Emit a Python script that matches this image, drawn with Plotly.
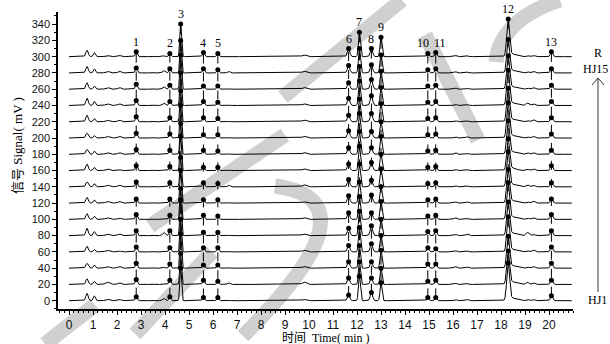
import numpy as np
import plotly.graph_objects as go

# ---------------- data ----------------
sample_names = ["HJ1", "HJ2", "HJ3", "HJ4", "HJ5", "HJ6", "HJ7", "HJ8",
                "HJ9", "HJ10", "HJ11", "HJ12", "HJ13", "HJ14", "HJ15", "R"]
baseline_offsets = [0, 20, 40, 60, 80, 100, 120, 140, 160, 180, 200, 220, 240, 260, 280, 300]

# retention time (min), peak width (sigma, min), label
peak_times = [0.75, 1.05, 1.6, 2.1, 2.8, 3.45, 3.95, 4.2, 4.65, 5.6, 6.2, 6.65, 9.8,
              11.65, 12.1, 12.6, 13.0, 14.95, 15.28, 16.1, 16.6, 18.3, 18.5, 19.1, 19.35, 20.1]
peak_sigmas = [0.05, 0.04, 0.08, 0.06, 0.04, 0.05, 0.05, 0.04, 0.035, 0.04, 0.04, 0.05, 0.08,
               0.05, 0.04, 0.05, 0.04, 0.04, 0.04, 0.05, 0.05, 0.06, 0.15, 0.06, 0.06, 0.045]
peak_labels = ["", "", "", "", "1", "", "", "2", "3", "4", "5", "", "",
               "6", "7", "8", "9", "10", "11", "", "", "12", "", "", "", "13"]
# peak heights (mV) for each sample, HJ1 ... HJ15, R
peak_heights = [
    [9, 7, 6, 7, 9, 7, 7, 6, 8, 6, 6, 8, 9, 8, 8, 8],
    [6, 4, 4, 3, 5, 4, 4, 4, 4, 4, 3, 4, 5, 4, 5, 5],
    [2, 3, 2, 2, 2, 2, 2, 2, 2, 2, 2, 2, 2, 2, 2, 1.5],
    [1.5, 2, 2, 1, 2, 1.5, 2, 2, 1, 2, 2, 2, 2, 2, 2, 1.5],
    [5, 6, 6, 6, 6, 6, 5, 6, 6, 6, 6, 6, 6, 6, 6, 6],
    [1, 1, 1, 1, 1, 1, 1, 1, 1, 1, 1, 1, 1, 1, 1, 1],
    [3, 0.5, 1, 0.5, 4, 0.5, 0.5, 0.5, 0.5, 0.5, 0.5, 0.5, 3, 3, 3, 1],
    [5, 5, 5, 5, 6, 5, 5, 5, 5, 5, 5, 5, 5, 5, 5, 4],
    [40, 38, 42, 40, 44, 38, 40, 36, 42, 38, 40, 38, 40, 42, 40, 40],
    [4, 5, 4, 5, 4, 5, 4, 5, 4, 5, 4, 5, 5, 4, 5, 5],
    [4, 4, 4, 5, 4, 4, 4, 4, 4, 4, 4, 4, 4, 4, 4, 4],
    [0.5, 2, 0.5, 0.5, 0.5, 0.5, 0.5, 2, 0.5, 0.5, 0.5, 0.5, 0.5, 0.5, 2, 0.5],
    [1.5, 3, 2, 2, 2, 2, 1.5, 2.5, 2, 2, 2, 2, 2, 2, 2, 2],
    [7, 8, 8, 8, 9, 8, 9, 9, 8, 8, 9, 8, 9, 8, 9, 10],
    [30, 28, 28, 30, 30, 28, 26, 28, 30, 28, 30, 28, 30, 28, 30, 30],
    [10, 8, 8, 10, 12, 8, 10, 8, 10, 8, 8, 10, 12, 12, 10, 10],
    [22, 20, 22, 20, 20, 22, 20, 22, 20, 22, 20, 22, 22, 22, 22, 24],
    [4, 4, 5, 5, 5, 4, 4, 4, 4, 4, 4, 4, 4, 4, 4, 4],
    [4, 5, 5, 4, 6, 5, 5, 5, 5, 5, 5, 5, 5, 5, 5, 5],
    [1.5, 1.5, 2, 1.5, 1.5, 2, 1.5, 1.5, 1.5, 2, 1.5, 1.5, 1.5, 1.5, 1.5, 1.5],
    [1.5, 1, 1.5, 1, 2, 1, 1.5, 1, 1, 1, 1.5, 1, 1, 1, 1, 1],
    [45, 40, 38, 42, 40, 44, 40, 42, 38, 40, 42, 40, 42, 40, 40, 45],
    [3, 3, 3, 3, 3, 3, 3, 3, 3, 3, 3, 3, 3, 3, 3, 3],
    [1.5, 2.5, 1.5, 1.5, 4, 1.5, 1.5, 2.5, 1.5, 2, 1.5, 1.5, 3, 1.5, 1.5, 1.5],
    [1.5, 2, 2, 2.5, 1.5, 2, 2.5, 2, 2, 2, 2, 2.5, 2, 2, 2, 1.5],
    [6, 5, 6, 6, 6, 6, 5, 5, 6, 5, 5, 5, 5, 5, 5, 6],
]
x_tick_values = list(range(0, 21))
y_tick_values = list(range(0, 341, 20))
t_start, t_end = 0.0, 20.95

# ---------------- geometry helpers ----------------
W, H = 610, 344
ML, MR, MT, MB = 58, 37, 12, 35
PW, PH = W - ML - MR, H - MT - MB

def px(xp):
    return (xp - ML) / PW

def py(yp):
    return (H - MB - yp) / PH

label_xshift = {"10": -5, "11": 4}

# ---------------- build curves ----------------
t = np.arange(t_start, t_end + 1e-9, 0.005)
curves = []
for j, off in enumerate(baseline_offsets):
    y = np.full_like(t, float(off))
    for i, tc in enumerate(peak_times):
        y += peak_heights[i][j] * np.exp(-0.5 * ((t - tc) / peak_sigmas[i]) ** 2)
    curves.append(y)

fig = go.Figure()

# faint background watermark strokes (drawn below the data)
wm = dict(color="rgba(150,150,150,0.45)", width=15)
for (x0, y0, x1, y1) in [(150, 226, 285, 135), (402, 0, 283, 97), (425, 35, 478, 140),
                         (45, 344, 95, 305), (135, 334, 212, 252)]:
    fig.add_shape(type="line", xref="paper", yref="paper", layer="below",
                  x0=px(x0), y0=py(y0), x1=px(x1), y1=py(y1), line=wm)
for pts in [[(275, 186), (380, 200), (243, 336)], [(560, 0), (500, 20), (496, 62)]]:
    (a, b), (c, d), (e, f) = pts
    path = "M %f %f Q %f %f %f %f" % (px(a), py(b), px(c), py(d), px(e), py(f))
    fig.add_shape(type="path", xref="paper", yref="paper", layer="below", path=path, line=wm)

for j, name in enumerate(sample_names):
    fig.add_trace(go.Scatter(x=t, y=curves[j], mode="lines", name=name,
                             line=dict(color="black", width=1), showlegend=False,
                             hoverinfo="skip"))

# dashed connectors and apex markers for labelled peaks
for i, lab in enumerate(peak_labels):
    if not lab:
        continue
    tc = peak_times[i]
    ys = [float(np.interp(tc, t, c)) for c in curves]
    fig.add_trace(go.Scatter(x=[tc] * len(ys), y=ys, mode="lines+markers",
                             line=dict(color="black", width=1, dash="dash"),
                             marker=dict(color="black", size=5, symbol="circle"),
                             showlegend=False, hoverinfo="skip"))
    fig.add_annotation(x=tc, y=ys[-1], text=lab, showarrow=False, yanchor="bottom",
                       yshift=1, xshift=label_xshift.get(lab, 0),
                       font=dict(family="Liberation Serif, Times New Roman",
                                 size=12, color="black"))

# axis titles
fig.add_annotation(xref="paper", yref="paper", x=px(18), y=py(146), text="信号 Signal( mV )",
                   textangle=-90, showarrow=False, xanchor="center", yanchor="middle",
                   font=dict(family="Liberation Serif, Noto Sans CJK SC", size=13, color="black"))
fig.add_annotation(xref="paper", yref="paper", x=px(326), y=py(338), text="时间  Time( min )",
                   showarrow=False, xanchor="center", yanchor="middle",
                   font=dict(family="Liberation Serif, Noto Sans CJK SC", size=12, color="black"))

# right side sample markers
serif = dict(family="Liberation Serif, Times New Roman", size=12, color="black")
fig.add_annotation(xref="paper", yref="paper", x=px(598), y=py(53), text="R",
                   showarrow=False, xanchor="center", yanchor="middle", font=serif)
fig.add_annotation(xref="paper", yref="paper", x=px(581), y=py(69), text=sample_names[-2],
                   xanchor="left", yanchor="middle", showarrow=False, font=serif)
fig.add_annotation(xref="paper", yref="paper", x=px(586), y=py(300), text=sample_names[0],
                   xanchor="left", yanchor="middle", showarrow=False, font=serif)
for (x0, y0, x1, y1) in [(598, 78, 598, 292), (592, 85, 598, 78), (598, 78, 604, 85)]:
    fig.add_shape(type="line", xref="paper", yref="paper", x0=px(x0), y0=py(y0),
                  x1=px(x1), y1=py(y1), line=dict(color="#333", width=1))

fig.update_layout(
    width=W, height=H, margin=dict(l=ML, r=MR, t=MT, b=MB),
    paper_bgcolor="white", plot_bgcolor="rgba(0,0,0,0)",
    xaxis=dict(range=[-0.46, 21.0], tickvals=x_tick_values, showgrid=False, zeroline=False,
               showline=True, linecolor="black", linewidth=1.5, ticks="outside",
               ticklen=4, tickcolor="black",
               minor=dict(dtick=0.2, ticks="outside", ticklen=2, tickcolor="black"),
               tickfont=dict(family="Liberation Sans, Arial", size=12, color="#111")),
    yaxis=dict(range=[-10.2, 354.9], tickvals=y_tick_values, showgrid=False, zeroline=False,
               showline=True, linecolor="black", linewidth=1.5, ticks="outside",
               ticklen=4, tickcolor="black",
               minor=dict(dtick=10, ticks="outside", ticklen=2, tickcolor="black"),
               tickfont=dict(family="Liberation Sans, Arial", size=11, color="#111")),
)

fig.write_html("out.html")
